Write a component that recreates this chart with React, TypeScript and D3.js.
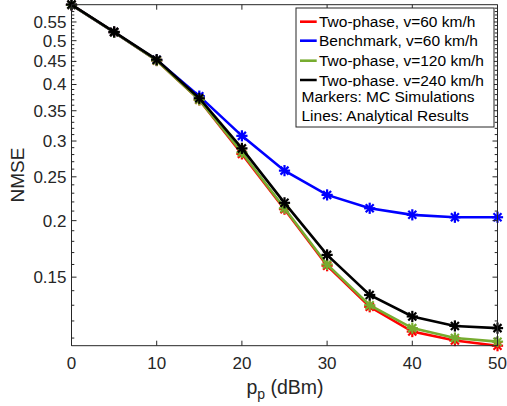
import React from "react";
import * as d3 from "d3";

const pp = [0, 5, 10, 15, 20, 25, 30, 35, 40, 45, 50];
const twoPhase60 = [0.600, 0.522, 0.452, 0.370, 0.281, 0.212, 0.159, 0.129, 0.1137, 0.1086, 0.1058];
const benchmark60 = [0.600, 0.522, 0.453, 0.377, 0.308, 0.258, 0.228, 0.213, 0.206, 0.2035, 0.2035];
const twoPhase120 = [0.600, 0.522, 0.452, 0.370, 0.283, 0.213, 0.160, 0.130, 0.1157, 0.110, 0.108];
const twoPhase240 = [0.601, 0.523, 0.454, 0.373, 0.289, 0.219, 0.168, 0.137, 0.1228, 0.117, 0.1157];

const seriesNames = [
  "Two-phase, v=60 km/h",
  "Benchmark, v=60 km/h",
  "Two-phase, v=120 km/h",
  "Two-phase. v=240 km/h",
];
const seriesColors = ["#ff0000", "#0000ff", "#77ac30", "#000000"];
const seriesData = [twoPhase60, benchmark60, twoPhase120, twoPhase240];
const legendNotes = ["Markers: MC Simulations", "Lines: Analytical Results"];

const xTicks = [0, 10, 20, 30, 40, 50];
const yTicks = [0.15, 0.2, 0.25, 0.3, 0.35, 0.4, 0.45, 0.5, 0.55];
const yTickLabels = ["0.15", "0.2", "0.25", "0.3", "0.35", "0.4", "0.45", "0.5", "0.55"];

const W = 507, H = 406;
const L = 71.5, R = 497.5, T = 4.7, B = 345.7;
const FONT = "'Liberation Sans', Arial, Helvetica, sans-serif";
const AX = "#262626";

export default function App() {
  const x = d3.scaleLinear().domain([0, 50]).range([L, R]);
  const y = d3.scaleLog().domain([0.1058, 0.6006]).range([B, T]);
  const line = d3
    .line<number>()
    .x((_, i) => x(pp[i]))
    .y((d) => y(d));

  const minor: number[] = [];
  for (let k = 11; k <= 60; k++) {
    const v = k / 100;
    if (k % 5 !== 0 && v < 0.6006 && v > 0.1058) minor.push(v);
  }

  const star = (cx: number, cy: number, c: string, key: string) => {
    const r = 5.6;
    const d = 4;
    return (
      <g key={key} stroke={c} strokeWidth={2.2}>
        <line x1={cx - r} y1={cy} x2={cx + r} y2={cy} />
        <line x1={cx} y1={cy - r} x2={cx} y2={cy + r} />
        <line x1={cx - d} y1={cy - d} x2={cx + d} y2={cy + d} />
        <line x1={cx - d} y1={cy + d} x2={cx + d} y2={cy - d} />
      </g>
    );
  };

  const legX = 296, legY = 8, legW = 198, legH = 119;
  const rowY = [21.7, 40.7, 60.7, 80];

  return (
    <svg
      width={W}
      height={H}
      style={{ position: "absolute", left: 0, top: 0, background: "#fff" }}
      fontFamily={FONT}
    >
      <defs>
        <clipPath id="row4clip">
          <rect x={legX} y={60} width={legW} height={26.5} />
        </clipPath>
      </defs>
      <rect x={0} y={0} width={W} height={H} fill="#fff" />

      {/* series */}
      <g>
        {seriesData.map((data, si) => (
          <g key={si}>
            <path d={line(data) || ""} fill="none" stroke={seriesColors[si]} strokeWidth={2.6} />
            {data.map((v, i) => star(x(pp[i]), y(v), seriesColors[si], `m${si}-${i}`))}
          </g>
        ))}
      </g>

      {/* axes box */}
      <g stroke={AX} strokeWidth={1} fill="none">
        <line x1={L} y1={B} x2={R} y2={B} />
        <line x1={L} y1={T} x2={R} y2={T} />
        <line x1={L} y1={T} x2={L} y2={B} />
        <line x1={R} y1={T} x2={R} y2={B} />
        {xTicks.map((t) => (
          <g key={`xt${t}`}>
            <line x1={x(t)} y1={B} x2={x(t)} y2={B - 5} />
            <line x1={x(t)} y1={T} x2={x(t)} y2={T + 5} />
          </g>
        ))}
        {yTicks.map((t) => (
          <g key={`yt${t}`}>
            <line x1={L} y1={y(t)} x2={L + 5} y2={y(t)} />
            <line x1={R} y1={y(t)} x2={R - 5} y2={y(t)} />
          </g>
        ))}
        {minor.map((t) => (
          <g key={`ym${t}`}>
            <line x1={L} y1={y(t)} x2={L + 2.8} y2={y(t)} />
            <line x1={R} y1={y(t)} x2={R - 2.8} y2={y(t)} />
          </g>
        ))}
      </g>

      {/* tick labels */}
      <g fill={AX} fontSize={17}>
        {xTicks.map((t) => (
          <text key={`xl${t}`} x={x(t)} y={369} textAnchor="middle">
            {t}
          </text>
        ))}
        {yTicks.map((t, i) => (
          <text key={`yl${t}`} x={L - 5} y={y(t)} dy="0.35em" textAnchor="end">
            {yTickLabels[i]}
          </text>
        ))}
      </g>

      {/* axis labels */}
      <text x={285} y={394} textAnchor="middle" fontSize={19.5} fill={AX}>
        p<tspan fontSize={14} dy={5}>p</tspan>
        <tspan dy={-5}> (dBm)</tspan>
      </text>
      <text
        transform={`translate(24,${175}) rotate(-90)`}
        textAnchor="middle"
        fontSize={19}
        fill={AX}
      >
        NMSE
      </text>

      {/* legend */}
      <rect x={legX} y={legY} width={legW} height={legH} fill="#fff" stroke={AX} strokeWidth={1} />
      {seriesNames.map((name, i) => (
        <g key={`lg${i}`} clipPath={i === 3 ? "url(#row4clip)" : undefined}>
          <line x1={300} y1={rowY[i]} x2={316.7} y2={rowY[i]} stroke={seriesColors[i]} strokeWidth={2.6} />
          <text x={319} y={rowY[i]} dy="0.36em" fontSize={15.5} fill="#000">
            {name}
          </text>
        </g>
      ))}
      {legendNotes.map((note, i) => (
        <text key={`ln${i}`} x={301.5} y={96.5 + i * 19} dy="0.36em" fontSize={15.5} fill="#000">
          {note}
        </text>
      ))}
    </svg>
  );
}
